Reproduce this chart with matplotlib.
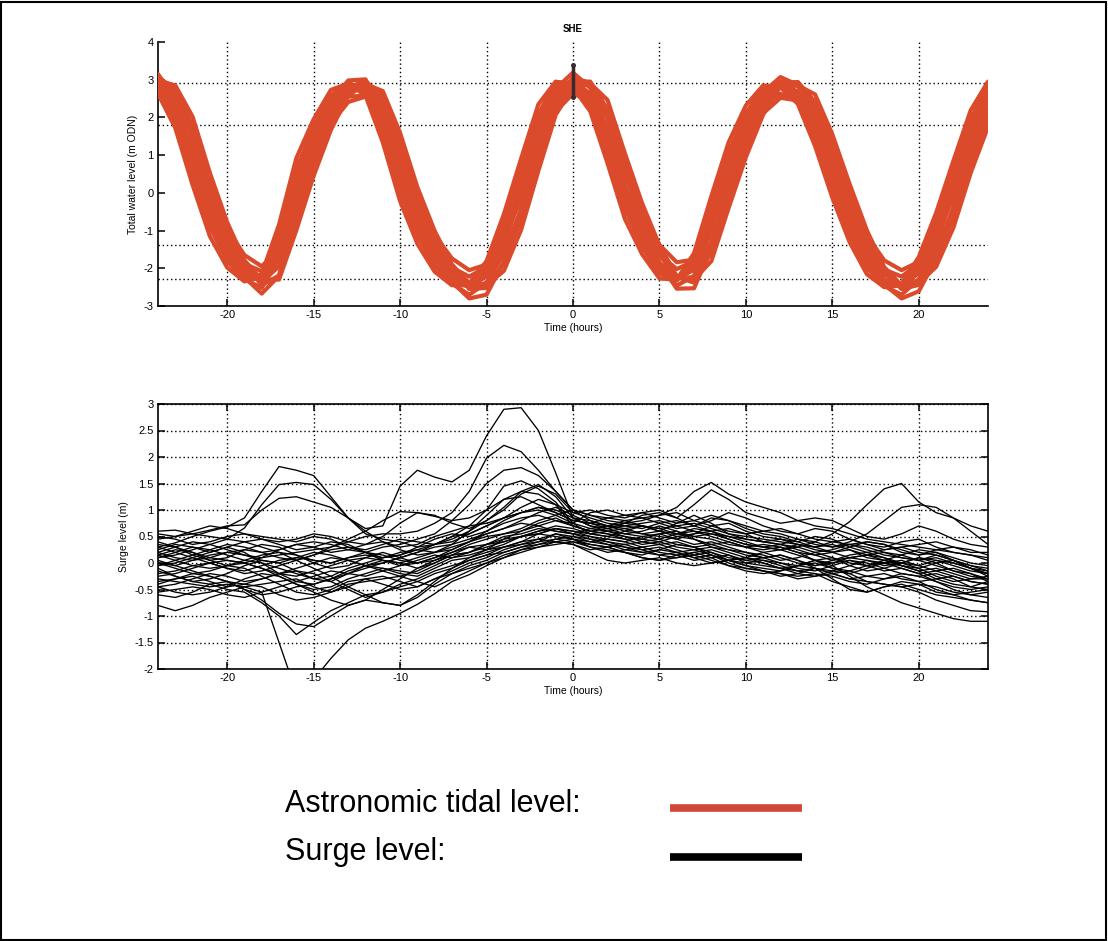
import matplotlib
matplotlib.use('Agg')
import matplotlib.pyplot as plt
from matplotlib.lines import Line2D
from matplotlib.patches import Rectangle
from matplotlib.ticker import FuncFormatter

plt.rcParams['font.family'] = ['Liberation Sans', 'DejaVu Sans']
plt.rcParams['axes.unicode_minus'] = False

# ---------------- data ----------------
hours = list(range(-24, 25))

title = "SHE"
xlabel = "Time (hours)"
tide_ylabel = "Total water level (m ODN)"
surge_ylabel = "Surge level (m)"
legend_labels = ["Astronomic tidal level:", "Surge level:"]

x_ticks = [-20, -15, -10, -5, 0, 5, 10, 15, 20]
tide_yticks = [-3, -2, -1, 0, 1, 2, 3, 4]
surge_yticks = [-2, -1.5, -1, -0.5, 0, 0.5, 1, 1.5, 2, 2.5, 3]
tide_grid_levels = [2.92, 1.80, -1.38, -2.29]
peak_marker_time = [0, 0]
peak_marker_level = [2.55, 3.38]

# astronomic tide curves (m ODN), hourly from -24 h to +24 h
tide_a = [2.96, 2.33, 1.08, -0.34, -1.40, -2.12, -2.34, -1.60, 0.00, 1.23, 2.22, 2.80, 2.83, 2.05,
          0.65, -0.63, -1.57, -2.23, -2.50, -2.21, -1.29, 0.00, 1.50, 2.60, 3.00, 2.62, 1.59, 0.15,
          -0.98, -1.85, -2.28, -2.04, -0.92, 0.50, 1.66, 2.51, 2.89, 2.69, 1.90, 0.68, -0.57, -1.60,
          -2.29, -2.50, -2.12, -1.22, 0.00, 1.39, 2.45]
tide_b = [2.81, 2.05, 0.68, -0.71, -1.67, -2.26, -2.26, -1.25, 0.43, 1.56, 2.46, 2.89, 2.72, 1.72,
          0.25, -0.96, -1.81, -2.37, -2.45, -2.03, -0.96, 0.42, 1.89, 2.83, 2.95, 2.41, 1.22, -0.24,
          -1.28, -2.05, -2.30, -1.84, -0.54, 0.89, 1.96, 2.70, 2.86, 2.54, 1.60, 0.31, -0.91, -1.86,
          -2.43, -2.47, -1.93, -0.90, 0.39, 1.76, 2.75]
tide_c = [3.00, 2.61, 1.48, 0.03, -1.13, -1.98, -2.36, -1.95, -0.43, 0.90, 1.98, 2.71, 2.88, 2.38,
          1.05, -0.30, -1.33, -2.09, -2.48, -2.39, -1.62, -0.42, 1.11, 2.37, 2.97, 2.83, 1.96, 0.54,
          -0.68, -1.65, -2.25, -2.24, -1.30, 0.11, 1.36, 2.32, 2.86, 2.84, 2.20, 1.05, -0.23, -1.34,
          -2.15, -2.48, -2.31, -1.54, -0.39, 1.02, 2.08]
tide_d = [3.15, 2.47, 1.14, -0.38, -1.52, -2.29, -2.52, -1.73, -0.02, 1.30, 2.36, 2.98, 3.01, 2.17,
          0.68, -0.69, -1.70, -2.41, -2.70, -2.38, -1.40, -0.02, 1.59, 2.76, 3.19, 2.78, 1.68, 0.14,
          -1.07, -2.00, -2.46, -2.20, -1.00, 0.52, 1.76, 2.67, 3.07, 2.86, 2.01, 0.71, -0.63, -1.73,
          -2.47, -2.70, -2.29, -1.33, -0.02, 1.47, 2.60]
tide_e = [2.69, 2.13, 1.00, -0.28, -1.23, -1.88, -2.08, -1.41, 0.03, 1.14, 2.03, 2.55, 2.58, 1.88,
          0.62, -0.54, -1.38, -1.98, -2.22, -1.96, -1.13, 0.03, 1.38, 2.37, 2.73, 2.39, 1.46, 0.17,
          -0.85, -1.64, -2.02, -1.81, -0.80, 0.48, 1.52, 2.29, 2.63, 2.45, 1.74, 0.64, -0.48, -1.41,
          -2.03, -2.22, -1.88, -1.07, 0.03, 1.28, 2.24]
tide_f = [3.02, 2.80, 1.75, 0.28, -0.95, -1.88, -2.45, -2.19, -0.71, 0.67, 1.82, 2.64, 2.95, 2.60,
          1.32, -0.07, -1.17, -1.99, -2.55, -2.52, -1.85, -0.70, 0.85, 2.22, 2.95, 2.95, 2.21, 0.80,
          -0.48, -1.52, -2.23, -2.38, -1.56, -0.15, 1.15, 2.20, 2.84, 2.94, 2.41, 1.30, 0.00, -1.17,
          -2.06, -2.55, -2.44, -1.75, -0.66, 0.77, 1.95]
tide_g = [2.73, 1.91, 0.48, -0.90, -1.80, -2.33, -2.25, -1.07, 0.64, 1.73, 2.58, 2.94, 2.66, 1.56,
          0.05, -1.13, -1.93, -2.44, -2.46, -1.94, -0.79, 0.63, 2.09, 2.94, 2.92, 2.30, 1.03, -0.43,
          -1.43, -2.14, -2.33, -1.73, -0.35, 1.08, 2.11, 2.79, 2.85, 2.46, 1.45, 0.12, -1.08, -1.99,
          -2.49, -2.46, -1.83, -0.74, 0.59, 1.94, 2.90]
tide_h = [2.63, 2.22, 1.23, 0.00, -0.96, -1.65, -1.95, -1.48, -0.16, 0.94, 1.83, 2.41, 2.55, 2.01,
          0.86, -0.27, -1.12, -1.74, -2.05, -1.90, -1.20, -0.16, 1.13, 2.16, 2.63, 2.43, 1.64, 0.43,
          -0.58, -1.38, -1.84, -1.77, -0.91, 0.28, 1.32, 2.11, 2.52, 2.45, 1.87, 0.87, -0.21, -1.14,
          -1.79, -2.05, -1.83, -1.14, -0.14, 1.05, 1.99]
tide_i = [3.09, 2.69, 1.52, 0.03, -1.28, -2.24, -2.67, -2.20, -0.49, 0.93, 2.04, 2.79, 2.97, 2.45,
          1.08, -0.34, -1.50, -2.36, -2.80, -2.70, -1.83, -0.47, 1.14, 2.44, 3.06, 2.91, 2.02, 0.56,
          -0.77, -1.86, -2.54, -2.53, -1.47, 0.11, 1.40, 2.39, 2.95, 2.93, 2.27, 1.08, -0.26, -1.51,
          -2.43, -2.80, -2.61, -1.74, -0.44, 1.05, 2.14]
tide_j = [2.63, 1.72, 0.21, -1.15, -1.98, -2.35, -2.15, -0.84, 0.92, 1.95, 2.73, 2.90, 2.58, 1.34,
          -0.22, -1.35, -2.09, -2.45, -2.40, -1.81, -0.57, 0.91, 2.35, 2.95, 2.80, 2.16, 0.78, -0.69,
          -1.63, -2.27, -2.30, -1.60, -0.09, 1.34, 2.32, 2.85, 2.80, 2.36, 1.24, -0.13, -1.31, -2.16,
          -2.50, -2.40, -1.70, -0.53, 0.85, 2.19, 2.95]
tide_k = [2.98, 2.85, 2.02, 0.53, -0.78, -1.79, -2.30, -2.30, -0.99, 0.45, 1.67, 2.58, 2.88, 2.70,
          1.59, 0.15, -1.01, -1.90, -2.40, -2.45, -2.07, -0.98, 0.59, 2.07, 2.80, 2.90, 2.46, 1.05,
          -0.28, -1.39, -2.21, -2.30, -1.81, -0.40, 0.95, 2.08, 2.83, 2.85, 2.61, 1.55, 0.23, -1.00,
          -1.97, -2.45, -2.40, -1.96, -0.92, 0.53, 1.75]
tide_l = [2.88, 2.19, 0.88, -0.53, -1.53, -2.19, -2.30, -1.42, 0.21, 1.40, 2.34, 2.85, 2.77, 1.89,
          0.45, -0.80, -1.69, -2.30, -2.50, -2.12, -1.12, 0.21, 1.70, 2.71, 2.98, 2.51, 1.40, -0.04,
          -1.13, -1.95, -2.30, -1.94, -0.73, 0.69, 1.81, 2.60, 2.90, 2.61, 1.75, 0.49, -0.74, -1.73,
          -2.36, -2.49, -2.02, -1.06, 0.20, 1.57, 2.60]

# surge curves (m), hourly from -24 h to +24 h
surge_01 = [0.30, 0.38, 0.50, 0.60, 0.68, 0.85, 1.35, 1.82, 1.75, 1.65, 1.25, 0.85, 0.65, 0.70,
            1.45, 1.75, 1.62, 1.53, 1.75, 2.40, 2.90, 2.93, 2.50, 1.70, 0.85, 0.80, 0.70, 0.65,
            0.55, 0.60, 0.75, 0.90, 0.75, 0.55, 0.45, 0.40, 0.35, 0.30, 0.20, 0.25, 0.35, 0.30,
            0.20, 0.10, 0.05, 0.15, 0.05, -0.10, -0.20]
surge_02 = [0.10, 0.15, 0.25, 0.35, 0.45, 0.66, 1.10, 1.48, 1.52, 1.48, 1.20, 0.85, 0.55, 0.45,
            0.40, 0.30, 0.35, 0.50, 0.70, 1.00, 1.45, 1.55, 1.40, 1.15, 0.75, 0.55, 0.50, 0.60,
            0.70, 0.65, 0.55, 0.60, 0.50, 0.40, 0.30, 0.25, 0.30, 0.20, 0.05, 0.00, 0.10, 0.05,
            -0.05, 0.00, 0.10, 0.00, -0.15, -0.25, -0.30]
surge_03 = [0.45, 0.50, 0.55, 0.62, 0.70, 0.72, 1.00, 1.22, 1.25, 1.15, 1.05, 0.85, 0.60, 0.40,
            0.25, 0.15, 0.20, 0.35, 0.60, 0.90, 1.20, 1.35, 1.30, 1.10, 0.70, 0.60, 0.55, 0.45,
            0.35, 0.40, 0.50, 0.45, 0.30, 0.25, 0.20, 0.10, 0.15, 0.05, -0.05, 0.05, 0.15, 0.20,
            0.10, -0.05, -0.10, 0.00, 0.05, -0.10, -0.20]
surge_04 = [-0.30, -0.35, -0.40, -0.45, -0.40, -0.45, -0.55, -1.50, -2.45, -2.20, -1.80, -1.45, -1.23, -1.10,
            -0.95, -0.78, -0.58, -0.35, -0.22, -0.05, 0.10, 0.25, 0.35, 0.45, 0.50, 0.40, 0.35, 0.30,
            0.20, 0.25, 0.35, 0.30, 0.20, 0.05, -0.05, -0.10, -0.15, -0.05, 0.05, -0.05, -0.25, -0.45,
            -0.60, -0.75, -0.85, -0.95, -1.05, -1.10, -1.10]
surge_05 = [-0.10, -0.25, -0.35, -0.40, -0.50, -0.55, -0.75, -1.00, -1.35, -1.12, -0.90, -0.75, -0.60, -0.55,
            -0.45, -0.35, -0.20, -0.10, 0.05, 0.15, 0.30, 0.40, 0.55, 0.65, 0.60, 0.55, 0.50, 0.45,
            0.45, 0.40, 0.30, 0.25, 0.30, 0.20, 0.10, 0.05, -0.05, -0.15, -0.10, -0.20, -0.30, -0.35,
            -0.40, -0.45, -0.55, -0.70, -0.80, -0.90, -0.92]
surge_06 = [0.05, -0.05, -0.15, -0.25, -0.35, -0.50, -0.70, -0.95, -1.15, -1.20, -1.00, -0.80, -0.70, -0.75,
            -0.80, -0.65, -0.40, -0.20, -0.05, 0.05, 0.20, 0.30, 0.40, 0.55, 0.50, 0.45, 0.35, 0.25,
            0.20, 0.15, 0.10, 0.20, 0.25, 0.15, 0.00, -0.05, -0.10, -0.20, -0.25, -0.20, -0.15, -0.25,
            -0.30, -0.25, -0.35, -0.50, -0.60, -0.70, -0.75]
surge_07 = [-0.80, -0.90, -0.80, -0.65, -0.55, -0.45, -0.40, -0.35, -0.30, -0.45, -0.55, -0.45, -0.30, -0.25,
            -0.35, -0.45, -0.30, -0.15, 0.00, 0.10, 0.25, 0.35, 0.40, 0.45, 0.40, 0.35, 0.30, 0.20,
            0.10, 0.05, 0.10, 0.15, 0.05, -0.05, -0.10, -0.15, -0.20, -0.30, -0.25, -0.15, -0.20, -0.35,
            -0.40, -0.45, -0.40, -0.45, -0.55, -0.60, -0.55]
surge_08 = [0.60, 0.62, 0.55, 0.50, 0.45, 0.40, 0.30, 0.20, 0.05, -0.10, -0.25, -0.45, -0.60, -0.75,
            -0.80, -0.60, -0.35, -0.10, 0.10, 0.25, 0.35, 0.50, 0.60, 0.70, 0.65, 0.55, 0.60, 0.65,
            0.70, 0.60, 0.50, 0.55, 0.60, 0.45, 0.35, 0.30, 0.25, 0.35, 0.30, 0.20, 0.10, 0.15,
            0.20, 0.15, 0.05, -0.05, -0.15, -0.20, -0.30]
surge_09 = [0.20, 0.10, 0.05, 0.10, 0.20, 0.25, 0.20, 0.10, 0.05, 0.15, 0.30, 0.45, 0.60, 0.80,
            0.97, 0.95, 0.88, 0.80, 0.85, 1.00, 1.20, 1.25, 1.10, 0.95, 0.80, 0.75, 0.70, 0.75,
            0.80, 0.90, 1.05, 1.35, 1.52, 1.30, 1.15, 1.05, 0.95, 0.80, 0.70, 0.65, 0.55, 0.45,
            0.40, 0.35, 0.30, 0.25, 0.20, 0.15, 0.10]
surge_10 = [0.00, -0.05, 0.05, 0.15, 0.20, 0.15, 0.10, 0.15, 0.20, 0.25, 0.30, 0.40, 0.50, 0.55,
            0.55, 0.60, 0.75, 0.95, 1.35, 1.98, 2.22, 2.10, 1.75, 1.35, 1.00, 0.90, 0.80, 0.75,
            0.70, 0.65, 0.70, 0.75, 0.65, 0.55, 0.50, 0.45, 0.40, 0.35, 0.30, 0.40, 0.35, 0.25,
            0.15, 0.10, 0.05, 0.10, 0.00, -0.10, -0.15]
surge_11 = [-0.20, -0.15, -0.05, 0.00, -0.10, -0.15, -0.05, 0.05, 0.10, 0.05, 0.00, 0.10, 0.20, 0.30,
            0.35, 0.45, 0.55, 0.80, 1.10, 1.50, 1.75, 1.80, 1.65, 1.35, 1.00, 0.80, 0.70, 0.60,
            0.55, 0.50, 0.45, 0.55, 0.70, 0.75, 0.60, 0.50, 0.45, 0.40, 0.50, 0.45, 0.30, 0.20,
            0.25, 0.30, 0.20, 0.15, 0.05, -0.05, -0.10]
surge_12 = [-0.45, -0.40, -0.30, -0.20, -0.25, -0.35, -0.30, -0.20, -0.10, 0.00, 0.10, 0.05, -0.05, 0.00,
            0.10, 0.20, 0.30, 0.35, 0.45, 0.55, 0.65, 0.80, 0.95, 1.05, 0.90, 0.75, 0.65, 0.70,
            0.75, 0.80, 0.70, 0.60, 0.55, 0.50, 0.40, 0.30, 0.25, 0.30, 0.40, 0.55, 0.78, 1.10,
            1.40, 1.50, 1.15, 0.95, 0.85, 0.60, 0.35]
surge_13 = [0.35, 0.30, 0.20, 0.10, 0.05, 0.00, -0.10, -0.20, -0.25, -0.15, -0.05, 0.05, 0.10, 0.05,
            0.00, 0.10, 0.20, 0.25, 0.40, 0.50, 0.55, 0.60, 0.70, 0.80, 0.75, 0.95, 1.00, 0.90,
            0.85, 0.90, 0.95, 0.80, 0.70, 0.60, 0.55, 0.60, 0.55, 0.45, 0.35, 0.30, 0.40, 0.55,
            0.80, 1.05, 1.10, 1.05, 0.85, 0.70, 0.60]
surge_14 = [-0.55, -0.50, -0.45, -0.50, -0.60, -0.65, -0.55, -0.45, -0.35, -0.25, -0.15, -0.20, -0.25, -0.15,
            -0.05, 0.00, 0.10, 0.20, 0.30, 0.25, 0.30, 0.35, 0.45, 0.40, 0.35, 0.20, 0.05, 0.00,
            0.05, 0.10, 0.00, -0.05, 0.00, 0.05, -0.05, -0.15, -0.25, -0.20, -0.10, -0.30, -0.50, -0.55,
            -0.45, -0.40, -0.50, -0.60, -0.65, -0.70, -0.75]
surge_15 = [0.10, 0.20, 0.30, 0.25, 0.15, 0.05, 0.00, -0.10, -0.20, -0.30, -0.25, -0.10, 0.00, 0.10,
            0.20, 0.25, 0.20, 0.30, 0.40, 0.55, 0.65, 0.75, 0.70, 0.60, 0.55, 0.50, 0.45, 0.40,
            0.50, 0.55, 0.45, 0.35, 0.40, 0.30, 0.20, 0.15, 0.05, 0.10, 0.20, 0.10, 0.00, -0.05,
            0.00, 0.05, -0.05, -0.15, -0.25, -0.35, -0.40]
surge_16 = [-0.25, -0.20, -0.10, 0.00, 0.05, 0.00, -0.10, -0.25, -0.40, -0.50, -0.45, -0.30, -0.20, -0.10,
            -0.15, -0.20, -0.05, 0.10, 0.15, 0.25, 0.45, 0.60, 0.75, 0.85, 0.70, 0.60, 0.55, 0.50,
            0.40, 0.35, 0.40, 0.30, 0.15, 0.05, 0.10, 0.20, 0.10, 0.00, -0.05, 0.00, 0.05, 0.00,
            -0.10, -0.20, -0.25, -0.20, -0.30, -0.45, -0.50]
surge_17 = [0.50, 0.45, 0.35, 0.40, 0.50, 0.55, 0.50, 0.45, 0.40, 0.50, 0.45, 0.30, 0.25, 0.35,
            0.45, 0.40, 0.35, 0.40, 0.55, 0.70, 0.85, 1.05, 1.20, 1.10, 0.95, 1.00, 0.90, 0.85,
            0.95, 1.00, 0.85, 0.70, 0.80, 0.95, 0.85, 0.70, 0.60, 0.55, 0.65, 0.60, 0.45, 0.35,
            0.30, 0.40, 0.45, 0.30, 0.20, 0.15, 0.05]
surge_18 = [-0.45, -0.55, -0.60, -0.55, -0.45, -0.30, -0.20, -0.25, -0.40, -0.55, -0.70, -0.80, -0.70, -0.50,
            -0.30, -0.10, 0.05, 0.15, 0.20, 0.30, 0.40, 0.50, 0.55, 0.50, 0.45, 0.30, 0.20, 0.25,
            0.30, 0.20, 0.15, 0.05, 0.10, 0.15, 0.05, 0.00, -0.10, -0.05, 0.05, -0.10, -0.20, -0.10,
            0.00, -0.05, -0.15, -0.30, -0.40, -0.45, -0.35]
surge_19 = [-0.05, 0.05, 0.15, 0.25, 0.35, 0.30, 0.20, 0.25, 0.35, 0.40, 0.35, 0.25, 0.20, 0.15,
            0.05, 0.00, 0.10, 0.25, 0.40, 0.60, 0.80, 0.95, 1.05, 1.00, 0.85, 0.70, 0.65, 0.75,
            0.90, 0.95, 0.85, 1.10, 1.38, 1.20, 0.95, 0.85, 0.75, 0.80, 0.85, 0.80, 0.65, 0.50,
            0.45, 0.55, 0.70, 0.60, 0.45, 0.35, 0.30]
surge_20 = [0.20, 0.30, 0.40, 0.35, 0.25, 0.15, 0.05, 0.00, 0.10, 0.20, 0.15, 0.05, -0.05, -0.15,
            -0.25, -0.15, 0.00, 0.15, 0.20, 0.35, 0.45, 0.50, 0.60, 0.65, 0.55, 0.45, 0.40, 0.30,
            0.25, 0.30, 0.20, 0.10, 0.15, 0.00, -0.10, -0.15, -0.20, -0.25, -0.20, -0.35, -0.45, -0.55,
            -0.45, -0.35, -0.40, -0.55, -0.60, -0.55, -0.50]
surge_21 = [0.55, 0.50, 0.60, 0.70, 0.65, 0.55, 0.45, 0.40, 0.45, 0.55, 0.50, 0.40, 0.35, 0.50,
            0.75, 0.95, 0.90, 0.75, 0.65, 0.80, 1.00, 1.30, 1.45, 1.30, 0.95, 0.85, 0.75, 0.70,
            0.65, 0.75, 0.80, 0.70, 0.60, 0.65, 0.55, 0.40, 0.35, 0.45, 0.40, 0.30, 0.35, 0.40,
            0.35, 0.25, 0.15, 0.20, 0.10, 0.00, -0.05]
surge_22 = [-0.35, -0.30, -0.25, -0.35, -0.45, -0.40, -0.30, -0.20, -0.15, -0.20, -0.35, -0.50, -0.65, -0.55,
            -0.40, -0.30, -0.15, -0.05, 0.05, 0.15, 0.20, 0.30, 0.35, 0.40, 0.35, 0.25, 0.30, 0.35,
            0.25, 0.15, 0.20, 0.25, 0.15, 0.05, 0.00, 0.05, 0.00, -0.10, -0.15, -0.05, 0.05, -0.05,
            -0.15, -0.10, -0.20, -0.35, -0.45, -0.50, -0.45]
surge_23 = [0.15, 0.05, -0.05, -0.10, -0.05, 0.05, 0.15, 0.20, 0.15, 0.05, 0.00, 0.10, 0.15, 0.10,
            0.15, 0.25, 0.35, 0.45, 0.60, 0.80, 1.05, 1.35, 1.48, 1.25, 0.85, 0.70, 0.60, 0.55,
            0.60, 0.70, 0.60, 0.50, 0.45, 0.35, 0.30, 0.35, 0.30, 0.20, 0.15, 0.20, 0.25, 0.15,
            0.05, 0.00, 0.10, 0.05, -0.05, -0.15, -0.20]
surge_24 = [0.00, -0.10, -0.20, -0.15, -0.05, -0.10, -0.25, -0.40, -0.55, -0.60, -0.50, -0.35, -0.30, -0.40,
            -0.50, -0.45, -0.30, -0.20, -0.10, 0.00, 0.15, 0.25, 0.30, 0.40, 0.45, 0.35, 0.30, 0.20,
            0.10, 0.05, 0.15, 0.20, 0.10, -0.05, -0.15, -0.20, -0.15, -0.05, -0.10, -0.20, -0.30, -0.25,
            -0.20, -0.30, -0.35, -0.30, -0.25, -0.35, -0.40]
surge_25 = [0.40, 0.30, 0.15, 0.05, 0.10, 0.25, 0.35, 0.30, 0.15, 0.00, -0.10, -0.05, 0.10, 0.20,
            0.10, 0.00, 0.05, 0.20, 0.35, 0.45, 0.55, 0.65, 0.80, 0.90, 0.75, 0.65, 0.70, 0.80,
            0.85, 0.75, 0.65, 0.70, 0.85, 0.80, 0.65, 0.55, 0.50, 0.40, 0.30, 0.35, 0.25, 0.10,
            0.05, 0.15, 0.25, 0.20, 0.05, -0.05, -0.15]
surge_26 = [-0.15, -0.25, -0.35, -0.30, -0.20, -0.05, 0.05, 0.00, -0.15, -0.30, -0.35, -0.20, -0.05, 0.05,
            0.00, -0.10, 0.00, 0.15, 0.30, 0.35, 0.50, 0.55, 0.65, 0.60, 0.55, 0.65, 0.60, 0.50,
            0.45, 0.55, 0.60, 0.45, 0.35, 0.40, 0.30, 0.20, 0.25, 0.15, 0.05, 0.10, -0.05, -0.15,
            -0.10, 0.00, -0.10, -0.25, -0.35, -0.30, -0.25]
surge_27 = [0.25, 0.35, 0.30, 0.20, 0.30, 0.40, 0.45, 0.35, 0.25, 0.30, 0.40, 0.35, 0.20, 0.10,
            0.15, 0.30, 0.45, 0.55, 0.50, 0.60, 0.75, 0.85, 0.90, 0.80, 0.70, 0.60, 0.65, 0.55,
            0.50, 0.45, 0.55, 0.65, 0.60, 0.50, 0.45, 0.40, 0.45, 0.35, 0.25, 0.20, 0.30, 0.40,
            0.35, 0.20, 0.15, 0.25, 0.30, 0.25, 0.15]
surge_28 = [-0.40, -0.30, -0.20, -0.25, -0.35, -0.50, -0.60, -0.55, -0.45, -0.40, -0.30, -0.15, -0.05, -0.10,
            -0.20, -0.25, -0.10, 0.05, 0.10, 0.20, 0.30, 0.40, 0.45, 0.55, 0.45, 0.40, 0.45, 0.40,
            0.30, 0.35, 0.25, 0.15, 0.20, 0.10, 0.05, 0.10, 0.00, -0.05, 0.00, -0.10, -0.15, -0.05,
            0.05, -0.05, -0.15, -0.10, -0.20, -0.30, -0.30]
surge_29 = [-0.05, 0.00, 0.10, 0.00, -0.10, -0.20, -0.15, -0.05, 0.05, 0.15, 0.25, 0.30, 0.20, 0.05,
            -0.05, 0.05, 0.15, 0.10, 0.20, 0.35, 0.40, 0.50, 0.55, 0.65, 0.60, 0.50, 0.40, 0.35,
            0.40, 0.45, 0.35, 0.30, 0.35, 0.25, 0.15, 0.10, 0.15, 0.05, -0.10, -0.15, -0.05, 0.05,
            0.00, -0.10, -0.20, -0.15, -0.10, -0.20, -0.35]
surge_30 = [0.30, 0.20, 0.10, 0.20, 0.30, 0.20, 0.00, -0.20, -0.35, -0.40, -0.30, -0.20, -0.10, 0.00,
            0.10, 0.20, 0.35, 0.50, 0.55, 0.70, 0.85, 0.95, 1.05, 0.95, 0.80, 0.75, 0.85, 0.80,
            0.70, 0.60, 0.55, 0.50, 0.55, 0.45, 0.35, 0.30, 0.35, 0.25, 0.15, 0.05, 0.10, 0.15,
            0.10, 0.00, -0.05, 0.05, 0.00, -0.10, -0.25]
surge_31 = [-0.60, -0.65, -0.55, -0.40, -0.35, -0.40, -0.45, -0.60, -0.70, -0.65, -0.55, -0.40, -0.35, -0.30,
            -0.25, -0.35, -0.45, -0.30, -0.15, 0.00, 0.10, 0.20, 0.30, 0.35, 0.40, 0.30, 0.25, 0.20,
            0.15, 0.25, 0.20, 0.10, 0.00, 0.05, 0.10, 0.00, -0.10, -0.15, -0.20, -0.25, -0.35, -0.40,
            -0.30, -0.20, -0.25, -0.35, -0.50, -0.60, -0.65]
surge_32 = [0.15, 0.25, 0.20, 0.05, -0.05, 0.00, 0.10, 0.25, 0.35, 0.30, 0.20, 0.25, 0.35, 0.40,
            0.30, 0.35, 0.50, 0.60, 0.70, 0.75, 0.85, 0.95, 1.00, 0.90, 1.00, 0.90, 0.85, 0.90,
            0.95, 0.85, 0.75, 0.80, 0.90, 0.80, 0.70, 0.60, 0.65, 0.55, 0.45, 0.40, 0.45, 0.35,
            0.25, 0.30, 0.35, 0.40, 0.30, 0.20, 0.20]

tide_curves = [tide_a, tide_b, tide_c, tide_d, tide_e, tide_f, tide_g, tide_h, tide_i,
               tide_j, tide_k, tide_l]
surge_curves = [surge_01, surge_02, surge_03, surge_04, surge_05, surge_06, surge_07, surge_08,
                surge_09, surge_10, surge_11, surge_12, surge_13, surge_14, surge_15, surge_16,
                surge_17, surge_18, surge_19, surge_20, surge_21, surge_22, surge_23, surge_24,
                surge_25, surge_26, surge_27, surge_28, surge_29, surge_30, surge_31, surge_32]

# ---------------- styling ----------------
RED = '#dc4a2c'
LEGEND_RED = '#d2473a'
W, H = 1108, 941
fmt = FuncFormatter(lambda v, _: '%g' % v)

fig = plt.figure(figsize=(W / 100, H / 100), dpi=100)
fig.patch.set_facecolor('white')

# ---- top panel: tidal level ----
ax1 = fig.add_axes([158 / W, 1 - 306 / H, 830 / W, 264 / H])
for c in tide_curves:
    ax1.plot(hours, c, color=RED, lw=3.0, solid_joinstyle='round', solid_capstyle='round', zorder=3)
ax1.plot(peak_marker_time, peak_marker_level, color='#3a2a30', lw=2.5, marker='o', ms=2.5, zorder=4)
ax1.set_xlim(-24, 24)
ax1.set_ylim(-3, 4)
ax1.set_xticks(x_ticks)
ax1.set_yticks(tide_yticks)
ax1.xaxis.set_major_formatter(fmt)
ax1.yaxis.set_major_formatter(fmt)
ax1.spines['top'].set_visible(False)
ax1.spines['right'].set_visible(False)
for s in ['left', 'bottom']:
    ax1.spines[s].set_linewidth(1.2)
ax1.tick_params(direction='in', length=5, width=1.1, labelsize=8, pad=3)
ax1.xaxis.grid(True, linestyle=(0, (1, 2)), color='black', lw=1.0, zorder=1)
for lev in tide_grid_levels:
    ax1.axhline(lev, linestyle=(0, (1, 2)), color='black', lw=1.0, zorder=1)
ax1.set_title(title, fontsize=7, fontweight='bold', pad=7)
ax1.set_xlabel(xlabel, fontsize=7.5, labelpad=2)
ax1.set_ylabel(tide_ylabel, fontsize=7.5, labelpad=4)

# ---- bottom panel: surge level ----
ax2 = fig.add_axes([158 / W, 1 - 669 / H, 830 / W, 265 / H])
for c in surge_curves:
    ax2.plot(hours, c, color='black', lw=0.95, zorder=3)
ax2.set_xlim(-24, 24)
ax2.set_ylim(-2, 3)
ax2.set_xticks(x_ticks)
ax2.set_yticks(surge_yticks)
ax2.xaxis.set_major_formatter(fmt)
ax2.yaxis.set_major_formatter(fmt)
for s in ax2.spines.values():
    s.set_linewidth(1.2)
ax2.tick_params(direction='in', length=5, width=1.1, labelsize=8, pad=3,
                top=True, right=True)
ax2.grid(True, linestyle=(0, (1, 2)), color='black', lw=1.0, zorder=1)
ax2.set_xlabel(xlabel, fontsize=7.5, labelpad=2)
ax2.set_ylabel(surge_ylabel, fontsize=7.5, labelpad=4)

# ---- legend drawn as free text ----
fig.text(285 / W, 1 - 812 / H, legend_labels[0], fontsize=22, ha='left', va='baseline')
fig.text(285 / W, 1 - 860 / H, legend_labels[1], fontsize=22, ha='left', va='baseline')
fig.add_artist(Line2D([670 / W, 802 / W], [1 - 808 / H, 1 - 808 / H],
                      color=LEGEND_RED, lw=5.5, solid_capstyle='butt'))
fig.add_artist(Line2D([670 / W, 802 / W], [1 - 857 / H, 1 - 857 / H],
                      color='black', lw=5.5, solid_capstyle='butt'))

# figure frame
fig.add_artist(Rectangle((0.001, 0.001), 0.997, 0.997, transform=fig.transFigure,
                         fill=False, edgecolor='black', lw=1.5))

fig.savefig('out.png', dpi=100, facecolor='white')
